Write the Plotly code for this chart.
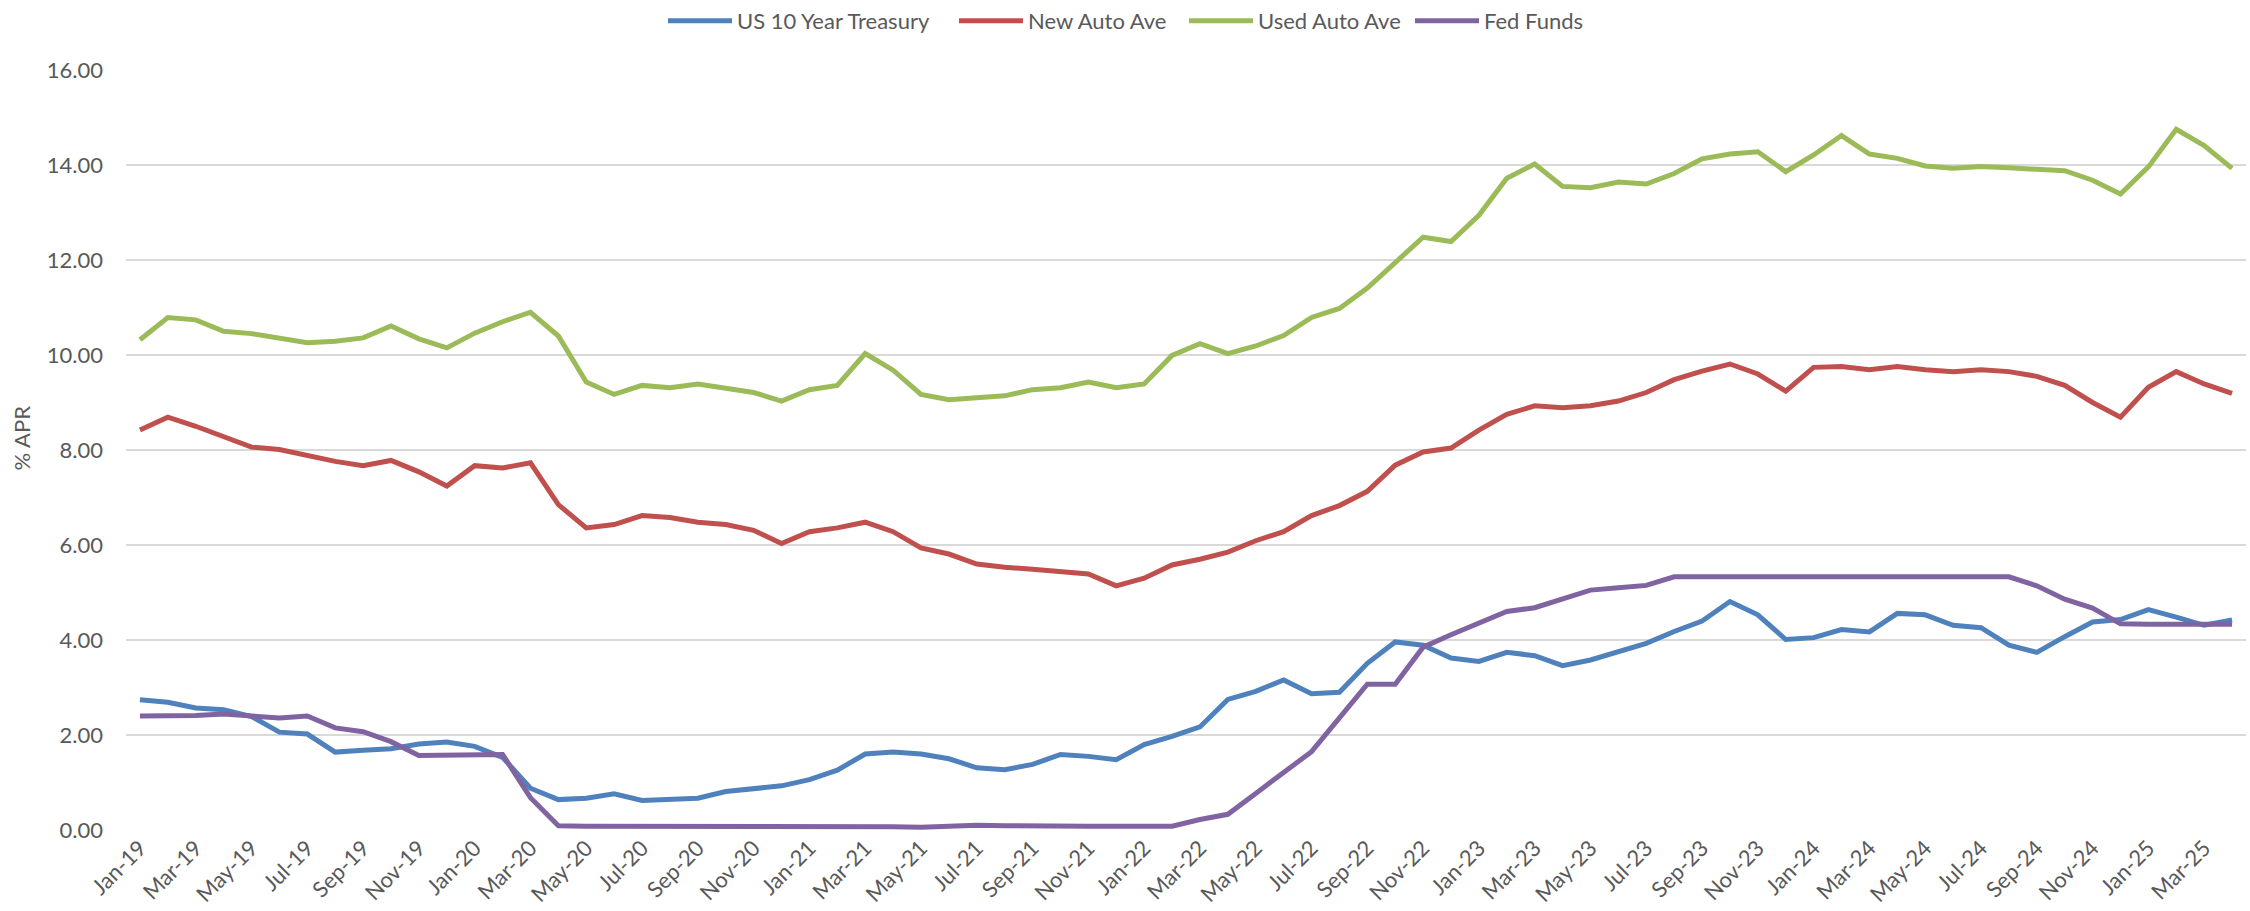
import plotly.graph_objects as go
import pandas as pd

months = pd.date_range("2019-01-01", "2025-04-01", freq="MS").strftime("%b-%y").tolist()

us10y = [2.74, 2.69, 2.57, 2.53, 2.39, 2.06, 2.02, 1.64, 1.68, 1.71, 1.81, 1.85,
         1.76, 1.53, 0.88, 0.64, 0.67, 0.76, 0.62, 0.65, 0.67, 0.81, 0.87, 0.93,
         1.06, 1.26, 1.60, 1.64, 1.60, 1.50, 1.31, 1.27, 1.38, 1.59, 1.55, 1.48,
         1.80, 1.97, 2.17, 2.75, 2.92, 3.16, 2.87, 2.90, 3.51, 3.96, 3.89, 3.62,
         3.55, 3.74, 3.67, 3.46, 3.58, 3.76, 3.93, 4.18, 4.40, 4.81, 4.53, 4.01,
         4.05, 4.22, 4.17, 4.56, 4.53, 4.31, 4.26, 3.89, 3.74, 4.07, 4.38, 4.43,
         4.64, 4.48, 4.31, 4.42]

new_auto = [8.42, 8.69, 8.50, 8.27, 8.06, 8.01, 7.88, 7.76, 7.67, 7.78, 7.54, 7.24,
            7.67, 7.62, 7.73, 6.85, 6.36, 6.43, 6.62, 6.58, 6.48, 6.43, 6.31, 6.03,
            6.28, 6.36, 6.48, 6.28, 5.94, 5.81, 5.60, 5.53, 5.49, 5.43, 5.39, 5.14,
            5.30, 5.58, 5.70, 5.85, 6.09, 6.28, 6.62, 6.83, 7.13, 7.68, 7.96, 8.04,
            8.42, 8.75, 8.93, 8.89, 8.93, 9.03, 9.21, 9.48, 9.66, 9.81, 9.60, 9.24,
            9.74, 9.76, 9.69, 9.76, 9.69, 9.65, 9.69, 9.65, 9.55, 9.36, 9.00, 8.69,
            9.32, 9.65, 9.39, 9.19]

used_auto = [10.32, 10.79, 10.74, 10.50, 10.45, 10.36, 10.26, 10.29, 10.36, 10.61, 10.34, 10.15,
             10.46, 10.70, 10.90, 10.40, 9.43, 9.17, 9.36, 9.31, 9.39, 9.30, 9.21, 9.03,
             9.27, 9.36, 10.03, 9.68, 9.17, 9.06, 9.10, 9.14, 9.27, 9.31, 9.43, 9.31,
             9.39, 9.99, 10.24, 10.03, 10.19, 10.41, 10.79, 10.98, 11.41, 11.96, 12.48, 12.39,
             12.94, 13.72, 14.02, 13.55, 13.52, 13.64, 13.60, 13.82, 14.13, 14.23, 14.28, 13.86,
             14.21, 14.62, 14.23, 14.14, 13.98, 13.93, 13.97, 13.94, 13.92, 13.88, 13.68, 13.39,
             13.96, 14.75, 14.41, 13.93]

fed_funds = [2.40, 2.40, 2.41, 2.44, 2.41, 2.36, 2.40, 2.15, 2.07, 1.86, 1.57, 1.57,
             1.57, 1.59, 0.68, 0.09, 0.08, 0.08, 0.09, 0.09, 0.09, 0.09, 0.09, 0.09,
             0.09, 0.08, 0.07, 0.07, 0.06, 0.08, 0.10, 0.09, 0.08, 0.08, 0.08, 0.08,
             0.08, 0.08, 0.22, 0.33, 0.77, 1.21, 1.65, 2.36, 3.07, 3.07, 3.85, 4.11,
             4.35, 4.60, 4.68, 4.86, 5.05, 5.10, 5.15, 5.33, 5.33, 5.33, 5.33, 5.33,
             5.33, 5.33, 5.33, 5.33, 5.33, 5.33, 5.33, 5.33, 5.14, 4.86, 4.67, 4.34,
             4.33, 4.33, 4.33, 4.33]

series_names = ["US 10 Year Treasury", "New Auto Ave", "Used Auto Ave", "Fed Funds"]
series_values = [us10y, new_auto, used_auto, fed_funds]
series_colors = ["#4F81BD", "#C0504D", "#9BBB59", "#8064A2"]

y_ticks = [0, 2, 4, 6, 8, 10, 12, 14, 16]
x_ticks = months[::2]
y_title = "% APR"

W, H = 2250, 911
FONT = "Lato, 'Open Sans', sans-serif"
TXT = "#595959"
legend_left_px = [663, 954, 1184, 1410]

fig = go.Figure()
legend_layout = {}
for i, (name, vals, color) in enumerate(zip(series_names, series_values, series_colors)):
    lg = "legend" if i == 0 else f"legend{i + 1}"
    fig.add_trace(go.Scatter(
        x=months, y=vals, name=name, mode="lines",
        line=dict(color=color, width=5), legend=lg,
    ))
    legend_layout[lg] = dict(
        orientation="h", xref="container", yref="container",
        x=legend_left_px[i] / W, xanchor="left", y=1.0, yanchor="top",
        font=dict(size=22, color=TXT), itemwidth=64, bgcolor="rgba(0,0,0,0)",
    )

fig.update_layout(
    width=W, height=H,
    paper_bgcolor="white", plot_bgcolor="white",
    margin=dict(l=126, r=4, t=70, b=81, autoexpand=False),
    font=dict(family=FONT, size=22, color=TXT),
    showlegend=True,
    xaxis=dict(
        type="category", range=[-0.5, len(months) - 0.5], automargin=False,
        tickmode="array", tickvals=x_ticks, ticktext=x_ticks,
        tickangle=-45, showgrid=False, zeroline=False, showline=False,
        ticks="", tickfont=dict(size=22, color=TXT),
    ),
    yaxis=dict(
        range=[0, 16], tickmode="array", tickvals=y_ticks, automargin=False,
        tickformat=".2f", showgrid=True, gridcolor="#D9D9D9", gridwidth=2,
        zeroline=False, showline=False, ticks="", ticklabelstandoff=22,
        tickfont=dict(size=22, color=TXT),
    ),
    annotations=[dict(
        text=y_title, textangle=-90, showarrow=False,
        xref="paper", yref="paper", x=(21.5 - 126) / 2120, y=(830 - 438) / 760,
        xanchor="center", yanchor="middle", font=dict(size=22, color=TXT),
    )],
    **legend_layout,
)

fig.write_html("out.html", config={"displayModeBar": False})

# remove the browser's default page margin so the figure fills the window exactly
with open("out.html", "r", encoding="utf-8") as f:
    html = f.read()
html = html.replace("<body>", '<body style="margin:0;overflow:hidden">', 1)
with open("out.html", "w", encoding="utf-8") as f:
    f.write(html)
